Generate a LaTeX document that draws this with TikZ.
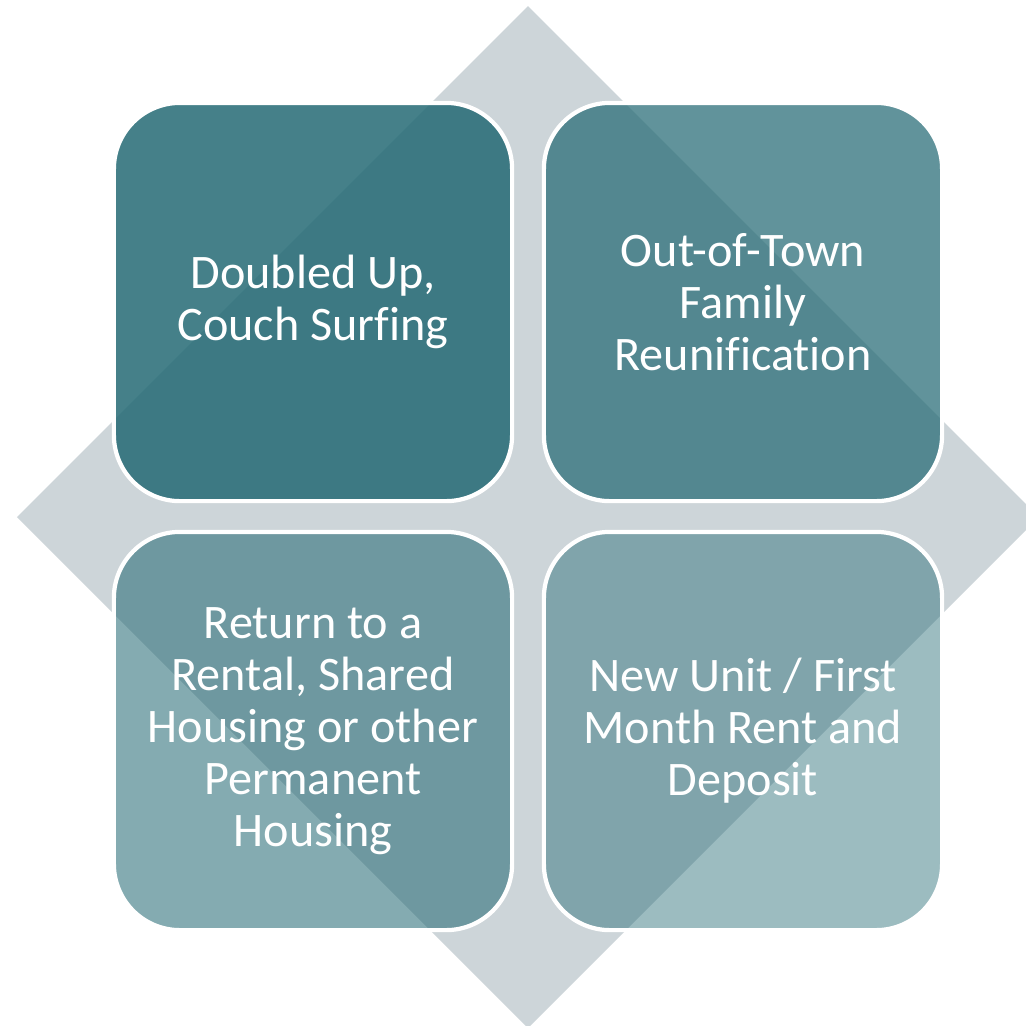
\documentclass[tikz,border=0pt]{standalone}
\usepackage{fontspec}
\setmainfont{Carlito}[Ligatures=NoCommon]
\usetikzlibrary{arrows, calc, shapes}
\definecolor{cellteal}{RGB}{36,106,116}
\definecolor{diamondgray}{RGB}{205,213,217}

\begin{document}
\begin{tikzpicture}[x=0.01cm, y=-0.01cm]
\tikzstyle{cell}=[draw=white, line width=1.2pt, fill=cellteal, text=white, text opacity=1,
  rounded corners=0.66cm, minimum width=3.98cm, minimum height=3.98cm,
  align=center, inner sep=0pt, font=\fontsize{13.7pt}{14.8pt}\selectfont]
\useasboundingbox (0,0) rectangle (1026,1026);
\clip (0,0) rectangle (1026,1026);
% background diamond
\fill [diamondgray] (528,6) -- (1039,517) -- (528,1028) -- (17,517) -- cycle;
% the four cells
\node [cell, fill opacity=0.85] (doubled) at (313,302) {Doubled Up,\\Couch Surfing};
\node [cell, fill opacity=0.72] (family) at (743,302) {Out-of-Town\\Family\\Reunification};
\node [cell, fill opacity=0.56] (rental) at (313,731) {Return to a\\Rental, Shared\\Housing or other\\Permanent\\Housing};
\node [cell, fill opacity=0.45] (newunit) at (743,731) {New Unit / First\\Month Rent and\\Deposit};
\end{tikzpicture}
\end{document}
